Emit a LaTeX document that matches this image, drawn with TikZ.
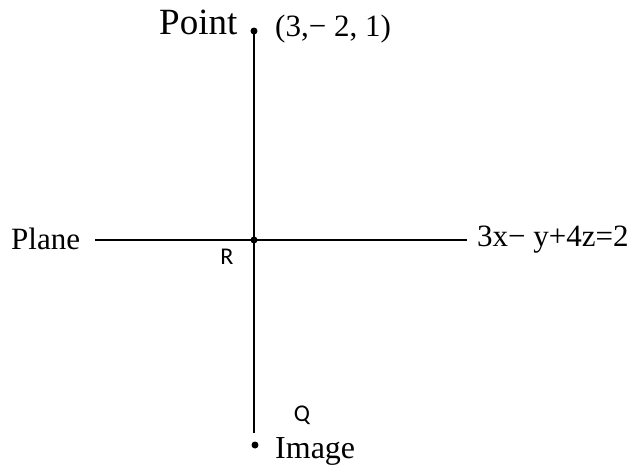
\documentclass[tikz,border=0pt]{standalone}
\usepackage{fontspec}
\setmainfont{Liberation Serif}
\newfontfamily\lbl{Carlito}
\begin{document}
\begin{tikzpicture}[x=1pt,y=-1pt,
  dotc/.style={circle,fill=black,inner sep=0pt,minimum size=7pt},
  serif/.style={font=\fontsize{31}{33}\selectfont,inner sep=0pt},
  sanslbl/.style={font=\lbl\fontsize{24}{26}\selectfont,inner sep=0pt},
  ln/.style={line width=2.1pt}]
\useasboundingbox (0,0) rectangle (633,467);
\coordinate (top) at (254,31);
\coordinate (bot) at (254,433);
\coordinate (left) at (95,240);
\coordinate (right) at (467,240);
\draw[ln] (top) -- (bot);
\draw[ln] (left) -- (right);
\node[dotc] (P) at (254,31) {};
\node[dotc] (Rd) at (254,240) {};
\node[dotc] (Qd) at (255,445) {};
\node[serif,font=\fontsize{37}{39}\selectfont,anchor=base west] (pt) at (159,34) {Point};
\node[serif,anchor=base west] (coord) at (275,36) {(3,− 2, 1)};
\node[serif,anchor=base west] (plane) at (11,249) {Plane};
\node[serif,anchor=base west] (eq) at (477,246) {3x− y+4z=2};
\node[sanslbl] (R) at (227,257) {R};
\node[sanslbl] (Q) at (302,415) {Q};
\node[serif,font=\fontsize{32}{34}\selectfont,anchor=base west] (img) at (275,458) {Image};
\end{tikzpicture}
\end{document}
